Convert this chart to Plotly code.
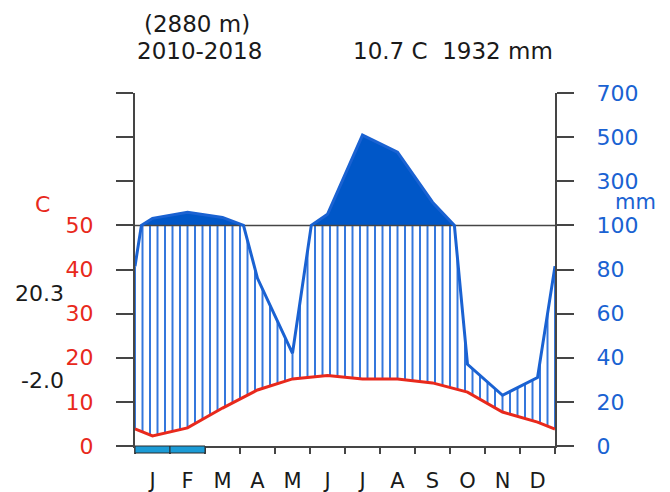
import numpy as np
import plotly.graph_objects as go

# ---------------- data ----------------
months = ["J", "F", "M", "A", "M", "J", "J", "A", "S", "O", "N", "D"]
temp = [2.3, 4.1, 8.6, 12.7, 15.2, 16.0, 15.2, 15.2, 14.3, 12.2, 7.7, 5.4]      # C
prec = [132, 159, 136, 76, 42, 150, 509, 432, 205, 37, 23, 31]                  # mm
frost = [1, 1, 0, 0, 0, 0, 0, 0, 0, 0, 0, 0]                                    # probable frost months
tick_pos = [0, 20, 40, 60, 80, 100, 120, 140, 160]
left_ticks = ["0", "10", "20", "30", "40", "50", "", "", ""]
right_ticks = ["0", "20", "40", "60", "80", "100", "300", "500", "700"]
abs_max_label = "20.3"
abs_min_label = "-2.0"
alt_label = "(2880 m)"
period_label = "2010-2018"

# ---------------- styles ----------------
FONT = "DejaVu Sans"
RED = "#e8291c"
BLUE = "#1a62d2"
FILL = "#0057c8"
HATCH = "#3477dc"
AX = "#454545"
W, H = 670, 492
L, R, T, B = 135, 555, 93, 446


def scale_p(p):
    p = np.asarray(p, float)
    return np.where(p > 100, 100 + (p - 100) / 10.0, p)


xm = np.arange(12) + 0.5
xe = np.concatenate([[0.0], xm, [12.0]])
t_edge = (temp[0] + temp[-1]) / 2
p_edge = (prec[0] + prec[-1]) / 2
te = np.concatenate([[t_edge], temp, [t_edge]])
pe = np.concatenate([[p_edge], prec, [p_edge]])

# precipitation polyline (raw interpolation, then scaled) with 100-mm crossings
px, py = [], []
for i in range(len(xe)):
    if i > 0:
        a, b = pe[i - 1], pe[i]
        if (a - 100) * (b - 100) < 0:
            f = (100 - a) / (b - a)
            px.append(xe[i - 1] + f * (xe[i] - xe[i - 1]))
            py.append(100.0)
    px.append(xe[i])
    py.append(float(scale_p(pe[i])))
px = np.array(px)
py = np.array(py)

# hatching (humid period)
hx = np.linspace(0, 12, 57)
ht = np.interp(hx, xe, te) * 2
hp = np.minimum(scale_p(np.interp(hx, xe, pe)), 100)
hxs, hys = [], []
for x, a, b in zip(hx, ht, hp):
    if b > a:
        hxs += [x, x, None]
        hys += [a, b, None]

fig = go.Figure()
fig.add_trace(go.Scatter(x=hxs, y=hys, mode="lines",
                         line=dict(color=HATCH, width=2), hoverinfo="skip"))
clip = np.maximum(py, 100)
fig.add_trace(go.Scatter(x=list(px) + [12, 0], y=list(clip) + [100, 100],
                         fill="toself", fillcolor=FILL, mode="lines",
                         line=dict(width=0, color=FILL), hoverinfo="skip"))
fig.add_trace(go.Scatter(x=[0, 12], y=[100, 100], mode="lines",
                         line=dict(color=AX, width=1.5), hoverinfo="skip"))
fig.add_trace(go.Scatter(x=xe, y=te * 2, mode="lines",
                         line=dict(color=RED, width=3), hoverinfo="skip"))
fig.add_trace(go.Scatter(x=px, y=py, mode="lines",
                         line=dict(color=BLUE, width=3), hoverinfo="skip"))
fig.add_trace(go.Scatter(x=[6], y=[50], yaxis="y2", mode="markers",
                         marker=dict(opacity=0), hoverinfo="skip"))

# frost bars below the axis
for i, fr in enumerate(frost):
    if fr:
        fig.add_shape(type="rect", xref="x", yref="paper", x0=i, x1=i + 1,
                      y0=-7 / (B - T), y1=0, fillcolor="#1b9bd6",
                      line=dict(color="#2a2a2a", width=1), layer="above")

axis_common = dict(range=[0, 160], tickmode="array", tickvals=tick_pos,
                   ticks="outside", ticklen=17, tickwidth=1.5, tickcolor=AX,
                   showline=True, linecolor=AX, linewidth=2, showgrid=False,
                   zeroline=False, fixedrange=True, automargin=False)

fig.update_layout(
    width=W, height=H,
    margin=dict(l=L, r=W - R, t=T, b=H - B, pad=0, autoexpand=False),
    paper_bgcolor="white", plot_bgcolor="white",
    showlegend=False,
    font=dict(family=FONT, size=22, color="#1a1a1a"),
    xaxis=dict(range=[0, 12], tickmode="array", tickvals=list(xm), ticktext=months,
               ticks="", showline=True, linecolor=AX, linewidth=2, showgrid=False,
               zeroline=False, ticklabelstandoff=15, automargin=False,
               tickfont=dict(family=FONT, size=21, color="#1a1a1a"),
               minor=dict(tickmode="array", tickvals=list(range(13)), ticks="outside",
                          ticklen=6, tickwidth=1.5, tickcolor=AX),
               fixedrange=True),
    yaxis=dict(**axis_common, ticktext=left_ticks, side="left",
               ticklabelstandoff=18,
               tickfont=dict(family=FONT, size=22, color=RED)),
    yaxis2=dict(**axis_common, ticktext=right_ticks, side="right", overlaying="y",
                ticklabelstandoff=18,
                tickfont=dict(family=FONT, size=22, color=BLUE)),
)


def ann(text, x, y, xanchor, color="#1a1a1a", size=22):
    fig.add_annotation(text=text, xref="paper", yref="paper",
                       x=(x - L) / (R - L), y=(B - y) / (B - T),
                       xanchor=xanchor, yanchor="middle", showarrow=False,
                       font=dict(family=FONT, size=size, color=color))


mean_t = np.mean(temp)
tot_p = np.sum(prec)
ann(alt_label, 142, 24, "left", size=23)
ann(period_label, 135, 51, "left", size=23)
ann(f"{mean_t:.1f} C\u00a0 {tot_p:.0f} mm", 555, 51, "right", size=23)
ann("C", 42, 204, "center", color=RED)
ann("mm", 613, 202, "left", color=BLUE, size=21)
ann(abs_max_label, 66, 293, "right")
ann(abs_min_label, 66, 380, "right")

fig.write_html("out.html")
